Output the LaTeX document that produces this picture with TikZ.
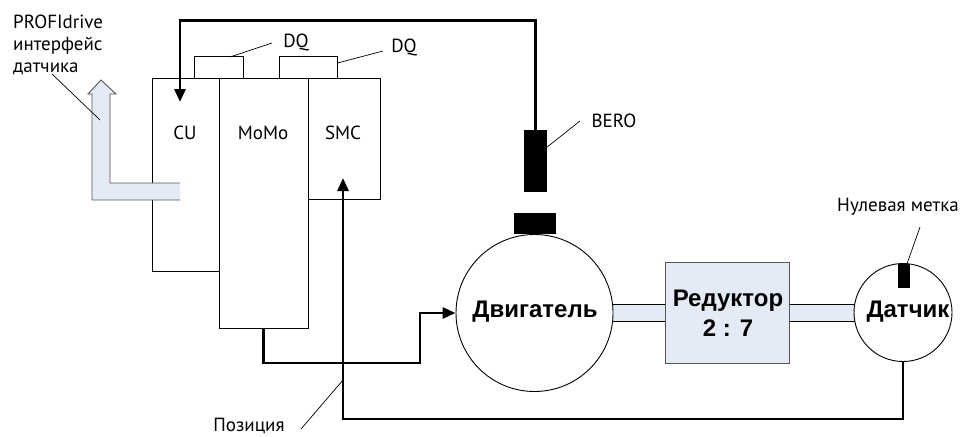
\documentclass[tikz,border=0pt]{standalone}
\usepackage{fontspec}
\setmainfont{PT Sans}
\newfontfamily\arialfont{Liberation Sans}
\usetikzlibrary{arrows.meta}
\definecolor{paleblue}{HTML}{E4EBF6}
\definecolor{edgegray}{HTML}{555555}
\begin{document}
\begin{tikzpicture}[x=1pt,y=-1pt,
  unitbox/.style={draw, line width=1pt, inner sep=0pt, fill=white},
  lbl/.style={inner sep=0pt, font=\fontsize{19}{24.5}\selectfont},
  big/.style={inner sep=0pt, font=\arialfont\bfseries\fontsize{24}{30}\selectfont, align=center},
  thin/.style={line width=0.7pt},
  heavy/.style={line width=2.8pt},
  tip/.style={-{Triangle[length=13pt,width=11pt]}},
  blackmark/.style={fill=black, draw=none, inner sep=0pt},
  shaft/.style={fill=paleblue, draw=black, line width=0.9pt}
]
\useasboundingbox (0,0) rectangle (968,436);

% shafts
\path[shaft] (534,304) rectangle (665,321);
\path[shaft] (789,304) rectangle (903,321);

% motor, sensor, gearbox
\node[circle, draw, fill=white, line width=0.9pt, minimum size=157pt, inner sep=0pt] (motor) at (534.5,313) {};
\node[big] (motort) at (535,312) {Двигатель};
\node[circle, draw, fill=white, line width=0.9pt, minimum size=98pt, inner sep=0pt] (sensor) at (903,312.5) {};
\node[big] (sensort) at (908,312) {Датчик};
\node[draw=edgegray, fill=paleblue, line width=1pt, minimum width=124pt, minimum height=101pt, inner sep=0pt] (gear) at (727,312.5) {};
\node[big] (geart) at (728,313) {Редуктор\\2 : 7};

% black marks
\node[blackmark, minimum width=42pt, minimum height=21pt] (motormark) at (535,223.5) {};
\node[blackmark, minimum width=23pt, minimum height=62pt] (bero) at (535.5,161) {};
\node[blackmark, minimum width=12pt, minimum height=24pt] (zero) at (904,276) {};

% drive modules
\node[unitbox, minimum width=49pt, minimum height=21pt] (dq1) at (218.5,67.5) {};
\node[unitbox, minimum width=58pt, minimum height=21pt] (dq2) at (308,67.5) {};
\node[unitbox, minimum width=67pt, minimum height=193pt] (cu) at (185.5,174.5) {};
\node[unitbox, minimum width=89pt, minimum height=250pt] (momo) at (263.5,203) {};
\node[unitbox, minimum width=72pt, minimum height=121pt] (smc) at (344,138.5) {};
\node[lbl] (cut) at (185,133) {CU};
\node[lbl] (momot) at (263,133) {MoMo};
\node[lbl] (smct) at (343,133) {SMC};

% connectors
\coordinate (cuin) at (180,102);
\coordinate (smcin) at (343,178);
\draw[heavy, tip] (bero.north) -- ++(0,-109) -| (cuin);
\draw[heavy, tip] (sensor.south) -- ++(0,57) -| (smcin);
\draw[heavy, tip] (momo.south) |- (420,363) |- (motor.west);

% hollow arrow (PROFIdrive)
\fill[paleblue] (180,183) -- (110,183) -- (110,94) -- (116,94) -- (101,80) -- (88,94) -- (92,94) -- (92,200) -- (180,200) -- cycle;
\draw[edgegray, line width=0.9pt] (180,183) -- (110,183) -- (110,94) -- (116,94) -- (101,80) -- (88,94) -- (92,94) -- (92,200) -- (180,200);

% labels and leaders
\node[lbl, anchor=base west] (profi1) at (13,29) {PROFIdrive};
\node[lbl, anchor=base west] (profi2) at (13,51) {интерфейс};
\node[lbl, anchor=base west] (profi3) at (13,73) {датчика};
\coordinate (profiend) at (100,120);
\draw[thin] (52,74) -- (profiend);

\node[lbl] (dq1t) at (296,42) {DQ};
\draw[thin] (230,57) -- (272,43);
\node[lbl] (dq2t) at (404,47) {DQ};
\draw[thin] (dq2.east |- 0,63) -- (383,51);

\node[lbl] (berot) at (614,121) {BERO};
\draw[thin] (bero.east |- 0,147) -- (580,121);

\node[lbl] (zerot) at (898,207) {Нулевая метка};
\draw[thin] (zero.north -| 907,0) -- (920,227);

\node[lbl] (post) at (249,426) {Позиция};
\draw[thin] (301,429) -- (343,380);
\end{tikzpicture}
\end{document}
